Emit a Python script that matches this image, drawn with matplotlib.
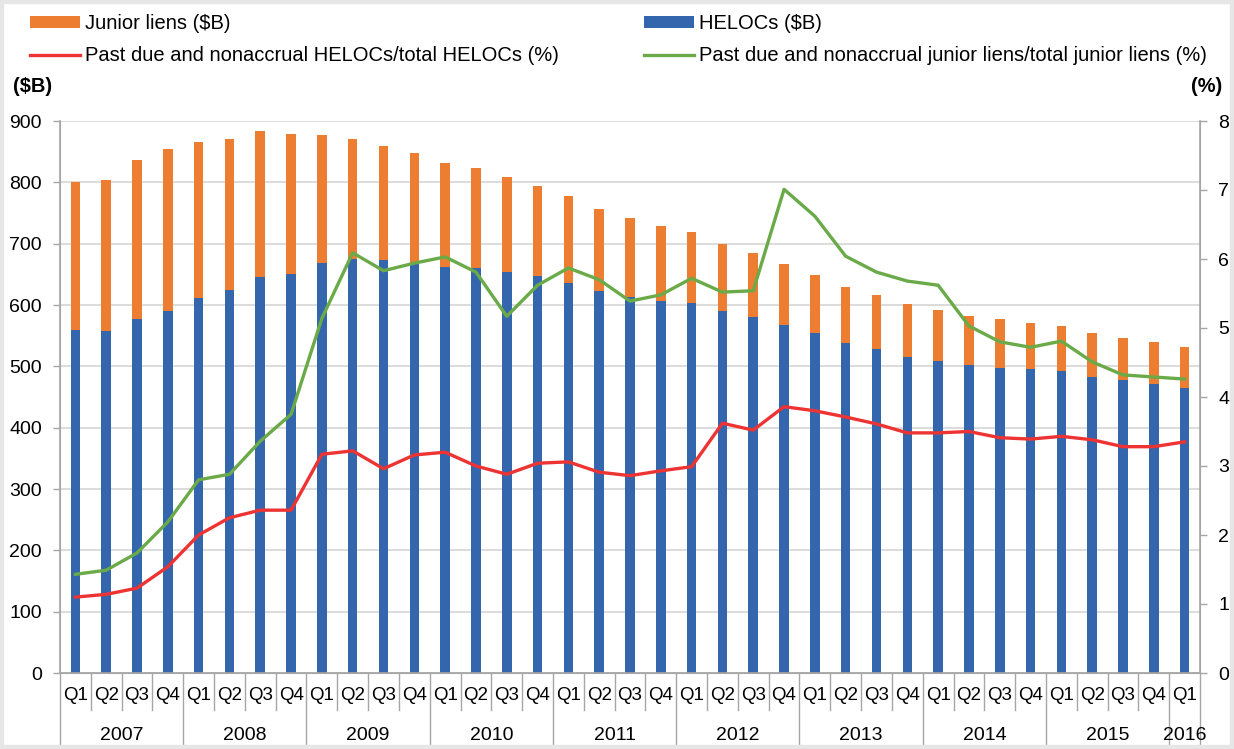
import numpy as np
import matplotlib
matplotlib.use("Agg")
from matplotlib import pyplot as plt
from matplotlib.patches import Rectangle
import matplotlib.transforms as mtransforms

plt.rcParams['font.family'] = ['Liberation Sans', 'DejaVu Sans']

years = ['2007', '2008', '2009', '2010', '2011', '2012', '2013', '2014', '2015', '2016']
quarters = ['Q1', 'Q2', 'Q3', 'Q4'] * 9 + ['Q1']

# total (HELOC + junior) bar heights and HELOC part, $B
total = [800, 804, 836, 854, 866, 871, 884, 878, 877, 871, 860, 848,
         831, 823, 808, 794, 778, 756, 742, 728, 719, 700, 685, 667,
         649, 630, 616, 602, 592, 582, 577, 571, 565, 555, 547, 539, 531]
helocs = [559, 557, 577, 591, 611, 625, 646, 651, 668, 675, 673, 667,
          662, 660, 654, 647, 636, 623, 613, 607, 603, 591, 580, 567,
          554, 538, 528, 516, 509, 502, 498, 495, 492, 483, 477, 471, 465]
junior = [t - h for t, h in zip(total, helocs)]

heloc_pct = [1.10, 1.14, 1.23, 1.54, 2.00, 2.25, 2.36, 2.36, 3.17, 3.22, 2.96, 3.16,
             3.20, 3.00, 2.88, 3.04, 3.06, 2.91, 2.86, 2.93, 2.99, 3.62, 3.52, 3.86,
             3.80, 3.71, 3.61, 3.48, 3.48, 3.50, 3.41, 3.39, 3.43, 3.38, 3.28, 3.28, 3.35]
junior_pct = [1.43, 1.49, 1.74, 2.19, 2.80, 2.88, 3.36, 3.75, 5.14, 6.09, 5.83, 5.94,
              6.03, 5.81, 5.17, 5.62, 5.87, 5.70, 5.39, 5.48, 5.72, 5.52, 5.54, 7.01,
              6.62, 6.04, 5.81, 5.68, 5.62, 5.03, 4.80, 4.72, 4.81, 4.51, 4.32, 4.29, 4.26]

c_orange = '#ED7D31'
c_blue = '#3366AD'
c_red = '#EE3333'
c_green = '#6AAA48'
c_axis = '#A6A6A6'

fig = plt.figure(figsize=(12.34, 7.49), dpi=100)
ax = fig.add_axes([60 / 1234, 76 / 749, 1140 / 1234, 552 / 749])
ax2 = ax.twinx()

x = np.arange(len(total))
bw = 0.31
b1 = ax.bar(x, helocs, width=bw, color=c_blue, label='HELOCs ($B)', zorder=2)
b2 = ax.bar(x, junior, width=bw, bottom=helocs, color=c_orange, label='Junior liens ($B)', zorder=2)
l1, = ax2.plot(x, heloc_pct, color=c_red, lw=2.4, label='Past due and nonaccrual HELOCs/total HELOCs (%)')
l2, = ax2.plot(x, junior_pct, color=c_green, lw=2.4, label='Past due and nonaccrual junior liens/total junior liens (%)')

ax.set_xlim(-0.5, len(total) - 0.5)
ax.set_ylim(0, 900)
ax.set_yticks(range(0, 901, 100))
ax2.set_ylim(0, 8)
ax2.set_yticks(range(0, 9))
ax.grid(axis='y', color='#D9D9D9', lw=1.3, zorder=0)
ax.set_axisbelow(True)

for a in (ax, ax2):
    a.spines['top'].set_visible(False)
    a.spines['left'].set_color(c_axis)
    a.spines['right'].set_color(c_axis)
    a.spines['bottom'].set_color(c_axis)
    a.tick_params(axis='y', colors=c_axis, labelcolor='black', labelsize=14, length=5, width=1, pad=8)
ax.spines['left'].set_linewidth(1.2)
ax2.spines['right'].set_linewidth(1.2)
ax.spines['bottom'].set_linewidth(1.2)
ax.set_xticks([])

# two-level category axis
trans = mtransforms.blended_transform_factory(ax.transData, ax.transAxes)
q_y = -23 / 552
yr_y = -62 / 552
sep_q = -37 / 552
sep_yr = -76 / 552
for i, q in enumerate(quarters):
    ax.text(i, q_y, q, transform=trans, ha='center', va='center', fontsize=13.5, clip_on=False)
for i in range(len(total) + 1):
    bottom = sep_yr if i % 4 == 0 or i == len(total) else sep_q
    ax.plot([i - 0.5, i - 0.5], [0, bottom], transform=trans, color=c_axis, lw=1, clip_on=False)
for k, yr in enumerate(years):
    start = 4 * k
    end = min(4 * k + 4, len(total))
    ax.text((start + end - 1) / 2, yr_y, yr, transform=trans, ha='center', va='center',
            fontsize=14, clip_on=False)

fig.text(13 / 1234, 1 - 86 / 749, '($B)', fontsize=14.4, fontweight='bold', va='center', ha='left')
fig.text(1222 / 1234, 1 - 86 / 749, '(%)', fontsize=14.4, fontweight='bold', va='center', ha='right')

leg_kw = dict(loc='upper left', frameon=False, fontsize=14.5, handlelength=2.49,
              handleheight=0.55, handletextpad=0.25, labelspacing=0.65, borderaxespad=0)
fig.legend([b2, l1], [b2.get_label(), l1.get_label()],
           bbox_to_anchor=(22 / 1234, 1 - 6 / 749), **leg_kw)
fig.legend([b1, l2], [b1.get_label(), l2.get_label()],
           bbox_to_anchor=(636 / 1234, 1 - 6 / 749), **leg_kw)

# light grey frame around the picture
fig.patches.append(Rectangle((0, 0), 1, 1, transform=fig.transFigure, fill=False,
                             edgecolor='#E6E6E6', lw=6, zorder=10))

fig.savefig('out.png', dpi=100)
